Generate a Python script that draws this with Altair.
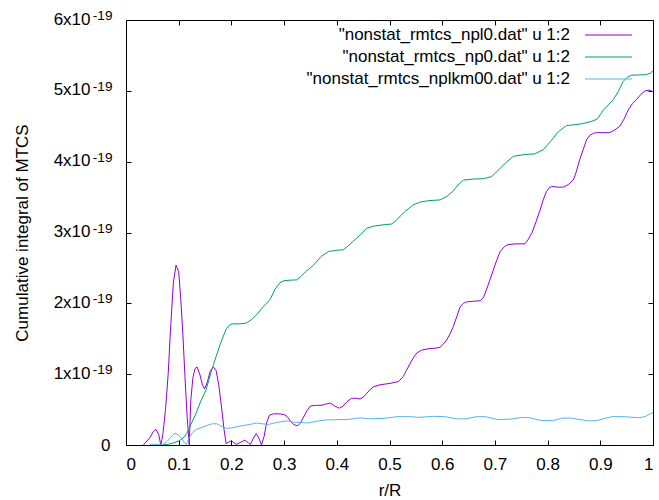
import altair as alt
import pandas as pd

# ---- data (values in units of 1e-19) ----
r_npl0 = [0.033, 0.045, 0.052, 0.057, 0.062, 0.066, 0.070, 0.075, 0.080, 0.085, 0.090, 0.095,
          0.100, 0.104, 0.108, 0.112, 0.116, 0.120, 0.123, 0.127, 0.131, 0.135, 0.140, 0.145,
          0.149, 0.154, 0.160, 0.166, 0.171, 0.176, 0.181, 0.186, 0.190, 0.195, 0.200, 0.205,
          0.210, 0.218, 0.226, 0.232, 0.236, 0.242, 0.247, 0.252, 0.257, 0.262, 0.267, 0.272,
          0.280, 0.290, 0.300, 0.306, 0.312, 0.318, 0.325, 0.330, 0.336, 0.343, 0.350, 0.360,
          0.370, 0.380, 0.388, 0.396, 0.405, 0.412, 0.419, 0.428, 0.436, 0.444, 0.451, 0.457,
          0.463, 0.469, 0.482, 0.501, 0.517, 0.526, 0.532, 0.539, 0.546, 0.552, 0.561, 0.575,
          0.590, 0.596, 0.603, 0.609, 0.615, 0.621, 0.628, 0.634, 0.640, 0.646, 0.659, 0.672,
          0.678, 0.684, 0.690, 0.697, 0.704, 0.710, 0.718, 0.725, 0.740, 0.757, 0.763, 0.770,
          0.778, 0.786, 0.792, 0.798, 0.803, 0.808, 0.820, 0.830, 0.840, 0.849, 0.855, 0.861,
          0.868, 0.874, 0.880, 0.887, 0.893, 0.905, 0.918, 0.928, 0.937, 0.945, 0.953, 0.961,
          0.969, 0.977, 0.985, 0.994, 1.000]
v_npl0 = [0.00, 0.10, 0.19, 0.22, 0.15, 0.00, 0.15, 0.50, 1.00, 1.70, 2.30, 2.54,
          2.45, 2.05, 1.55, 0.95, 0.40, 0.00, 0.64, 0.95, 1.08, 1.10, 1.00, 0.85,
          0.79, 0.88, 1.05, 1.10, 1.05, 0.85, 0.55, 0.22, 0.02, 0.04, 0.06, 0.03,
          0.01, 0.04, 0.07, 0.03, 0.01, 0.10, 0.16, 0.10, 0.00, 0.12, 0.32, 0.42,
          0.44, 0.44, 0.43, 0.40, 0.34, 0.29, 0.27, 0.30, 0.38, 0.48, 0.55, 0.56,
          0.56, 0.58, 0.59, 0.55, 0.52, 0.55, 0.61, 0.66, 0.66, 0.65, 0.68, 0.73,
          0.78, 0.82, 0.85, 0.87, 0.895, 0.965, 1.05, 1.15, 1.24, 1.30, 1.34, 1.36,
          1.37, 1.38, 1.43, 1.49, 1.57, 1.67, 1.82, 1.95, 2.00, 2.02, 2.03, 2.035,
          2.08, 2.19, 2.32, 2.47, 2.62, 2.73, 2.80, 2.83, 2.84, 2.84, 2.90, 2.99,
          3.15, 3.32, 3.47, 3.58, 3.63, 3.65, 3.64, 3.64, 3.68, 3.745, 3.87, 4.03,
          4.18, 4.31, 4.37, 4.40, 4.41, 4.41, 4.41, 4.45, 4.50, 4.60, 4.73, 4.82,
          4.88, 4.95, 5.00, 5.01, 4.985]

r_np0 = [0.068, 0.080, 0.090, 0.101, 0.110, 0.116, 0.125, 0.133, 0.142, 0.152, 0.161, 0.171,
         0.180, 0.190, 0.196, 0.201, 0.215, 0.228, 0.238, 0.248, 0.260, 0.273, 0.283, 0.292,
         0.300, 0.317, 0.324, 0.332, 0.340, 0.356, 0.370, 0.384, 0.400, 0.412, 0.420, 0.430,
         0.445, 0.457, 0.470, 0.490, 0.504, 0.513, 0.520, 0.530, 0.545, 0.558, 0.575, 0.596,
         0.609, 0.620, 0.630, 0.640, 0.660, 0.678, 0.694, 0.705, 0.720, 0.735, 0.755, 0.776,
         0.792, 0.805, 0.820, 0.836, 0.849, 0.865, 0.884, 0.894, 0.906, 0.915, 0.925, 0.935,
         0.943, 0.951, 0.959, 0.975, 0.988, 0.995, 1.000]
v_np0 = [0.00, 0.01, 0.03, 0.06, 0.11, 0.17, 0.32, 0.45, 0.62, 0.78, 1.02, 1.25,
         1.45, 1.635, 1.69, 1.71, 1.71, 1.72, 1.77, 1.84, 1.95, 2.05, 2.20, 2.29,
         2.32, 2.33, 2.33, 2.38, 2.44, 2.54, 2.66, 2.73, 2.75, 2.755, 2.80, 2.87,
         2.97, 3.06, 3.09, 3.11, 3.12, 3.17, 3.23, 3.30, 3.39, 3.43, 3.45, 3.46,
         3.51, 3.58, 3.67, 3.74, 3.755, 3.76, 3.79, 3.87, 3.98, 4.075, 4.10, 4.11,
         4.17, 4.28, 4.42, 4.51, 4.52, 4.535, 4.57, 4.60, 4.73, 4.80, 4.88, 5.00,
         5.13, 5.19, 5.22, 5.225, 5.23, 5.25, 5.28]

r_nplkm00 = [0.045, 0.070, 0.078, 0.085, 0.093, 0.100, 0.106, 0.110, 0.114, 0.117, 0.121, 0.127,
             0.133, 0.145, 0.155, 0.164, 0.172, 0.180, 0.190, 0.200, 0.218, 0.235, 0.247, 0.258,
             0.270, 0.282, 0.294, 0.306, 0.318, 0.330, 0.345, 0.365, 0.381, 0.420, 0.440, 0.450,
             0.460, 0.490, 0.514, 0.540, 0.555, 0.583, 0.605, 0.627, 0.645, 0.665, 0.681, 0.706,
             0.730, 0.751, 0.765, 0.789, 0.811, 0.827, 0.845, 0.877, 0.893, 0.922, 0.945, 0.972,
             0.985, 1.000]
v_nplkm00 = [0.01, 0.01, 0.05, 0.11, 0.165, 0.14, 0.09, 0.04, 0.01, 0.05, 0.12, 0.18,
             0.22, 0.25, 0.28, 0.30, 0.30, 0.27, 0.235, 0.24, 0.27, 0.29, 0.31, 0.30,
             0.29, 0.31, 0.33, 0.34, 0.32, 0.32, 0.31, 0.34, 0.355, 0.36, 0.38, 0.38,
             0.37, 0.375, 0.40, 0.40, 0.39, 0.405, 0.40, 0.37, 0.37, 0.40, 0.40, 0.36,
             0.365, 0.39, 0.385, 0.345, 0.345, 0.38, 0.38, 0.34, 0.345, 0.40, 0.40, 0.385,
             0.40, 0.46]

series_names = ['"nonstat_rmtcs_npl0.dat" u 1:2',
                '"nonstat_rmtcs_np0.dat" u 1:2',
                '"nonstat_rmtcs_nplkm00.dat" u 1:2']
series_colors = ["#9400D3", "#009E73", "#56B4E9"]

x_ticks = [0, 0.1, 0.2, 0.3, 0.4, 0.5, 0.6, 0.7, 0.8, 0.9, 1.0]
y_ticks = [0, 1e-19, 2e-19, 3e-19, 4e-19, 5e-19, 6e-19]
UNIT = 1e-19

frames = []
for name, rs, vs in zip(series_names, [r_npl0, r_np0, r_nplkm00], [v_npl0, v_np0, v_nplkm00]):
    frames.append(pd.DataFrame({"r": rs, "v": [v * UNIT for v in vs], "series": name}))
df = pd.concat(frames, ignore_index=True)

corners = pd.DataFrame({"r": [0.0, 1.0], "v": [0.0, 6e-19]})

W, H = 527, 425
FONT = "Liberation Sans"
FS = 17

xs = alt.Scale(domain=[0, 1], nice=False, zero=False)
ys = alt.Scale(domain=[0, 6e-19], nice=False, zero=True)

common = dict(grid=False, domain=False, labelFont=FONT, labelColor="black",
              titleFont=FONT, titleColor="black", titleFontWeight="normal")

# gnuplot-style key: text column (right aligned) + sample-line column
LEG_Y = 6.5
ROW_PAD = 4
key_text = alt.Legend(title=None, orient="none", legendX=427, legendY=LEG_Y,
                      symbolSize=0, symbolOpacity=0, labelAlign="right", labelOffset=0,
                      labelFont=FONT, labelFontSize=FS, labelColor="black",
                      labelLimit=500, rowPadding=ROW_PAD, padding=0)
key_lines = alt.Legend(title=None, orient="none", legendX=474, legendY=LEG_Y,
                       symbolType="M -3 0 L 3 0", symbolSize=245.4, symbolStrokeWidth=1,
                       labelExpr="''", labelFont=FONT, labelFontSize=FS,
                       rowPadding=ROW_PAD, padding=0)

# main layer: curves, bottom labels, left labels
x_main = alt.Axis(orient="bottom", values=x_ticks, format=".1~f", ticks=False, tickSize=0,
                  labelPadding=11, labelFontSize=FS, title="r/R", titleFontSize=FS,
                  titlePadding=10, **common)
y_main = alt.Axis(orient="left", values=y_ticks, ticks=False, tickSize=0,
                  labelExpr="datum.value == 0 ? '' : round(datum.value * 1e19) + 'x10'",
                  labelPadding=36, labelFontSize=FS, labelOffset=-1,
                  title="Cumulative integral of MTCS", titleFontSize=FS, titlePadding=22,
                  **common)

lines = alt.Chart(df).mark_line(strokeWidth=1, clip=True).encode(
    x=alt.X("r:Q", scale=xs, axis=x_main),
    y=alt.Y("v:Q", scale=ys, axis=y_main),
    color=alt.Color("series:N", sort=series_names,
                    scale=alt.Scale(domain=series_names, range=series_colors),
                    legend=key_lines),
    detail="series:N",
)

# exponent labels on the left, inward bottom ticks, and the key's text column
y_exp = alt.Axis(orient="left", values=y_ticks, ticks=False, tickSize=0, title=None,
                 labelExpr="datum.value == 0 ? '0' : '-19'",
                 labelPadding={"condition": {"test": "datum.value == 0", "value": 16}, "value": 14},
                 labelFontSize={"condition": {"test": "datum.value == 0", "value": FS}, "value": 13.6},
                 labelOffset={"condition": {"test": "datum.value == 0", "value": 0}, "value": -4.5},
                 **common)
x_bot_ticks = alt.Axis(orient="top", offset=-H, values=x_ticks, labels=False, ticks=True,
                       tickSize=5, tickColor="black", title=None, **common)
layer2 = alt.Chart(df).mark_point(opacity=0).encode(
    x=alt.X("r:Q", scale=xs, axis=x_bot_ticks),
    y=alt.Y("v:Q", scale=ys, axis=y_exp),
    shape=alt.Shape("series:N", sort=series_names,
                    scale=alt.Scale(range=["circle", "square", "diamond"]),
                    legend=key_text),
)

# inward ticks on top and left edges
x_top_ticks = alt.Axis(orient="bottom", offset=-H, values=x_ticks, labels=False, ticks=True,
                       tickSize=5, tickColor="black", title=None, **common)
y_left_ticks = alt.Axis(orient="right", offset=-W, values=y_ticks, labels=False, ticks=True,
                        tickSize=5, tickColor="black", title=None, **common)
layer3 = alt.Chart(corners).mark_point(opacity=0).encode(
    x=alt.X("r:Q", scale=xs, axis=x_top_ticks),
    y=alt.Y("v:Q", scale=ys, axis=y_left_ticks),
)

# inward ticks on right edge
y_right_ticks = alt.Axis(orient="left", offset=-W, values=y_ticks, labels=False, ticks=True,
                         tickSize=5, tickColor="black", title=None, **common)
layer4 = alt.Chart(corners).mark_point(opacity=0).encode(
    x=alt.X("r:Q", scale=xs, axis=None),
    y=alt.Y("v:Q", scale=ys, axis=y_right_ticks),
)

chart = alt.layer(lines, layer2, layer3, layer4).resolve_axis(
    x="independent", y="independent"
).resolve_legend(
    color="independent", shape="independent"
).properties(
    width=W, height=H,
    autosize=alt.AutoSizeParams(type="none"),
    padding={"left": 126, "top": 20, "right": 6, "bottom": 55},
    background="white",
).configure_view(stroke="black", strokeWidth=1)

chart.save("out.html", embed_options={"renderer": "svg", "actions": False})
